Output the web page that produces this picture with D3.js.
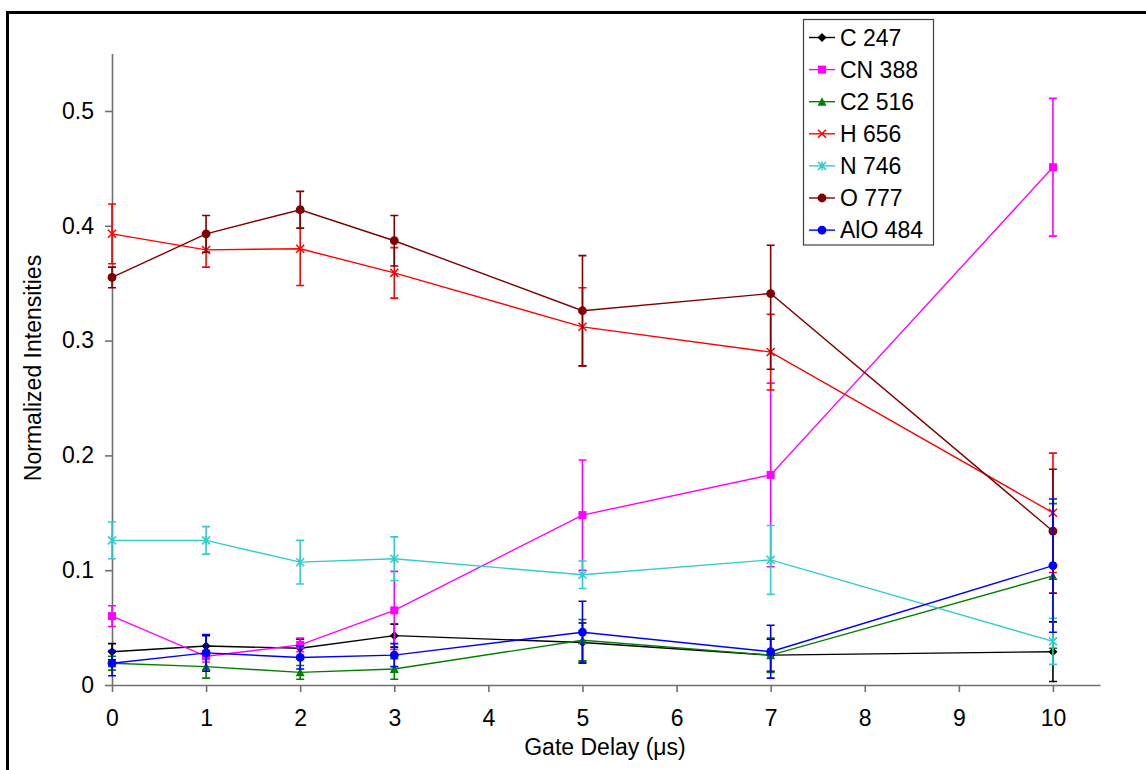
<!DOCTYPE html>
<html lang="en">
<head>
  <meta charset="UTF-8">
  <title>Normalized Intensities vs Gate Delay</title>
  <style>
    body {
      margin: 0;
      padding: 0;
      background: #fff;
      font-family: "Liberation Sans", Arial, sans-serif;
    }
    .axis path, .axis line {
      stroke: #707070;
      stroke-width: 1.6;
    }
    .axis text {
      font-size: 23px;
      fill: #000;
    }
    .axis-title {
      font-size: 23px;
      fill: #000;
    }
    .legend-text {
      font-size: 23px;
      fill: #000;
    }
  </style>
</head>
<body>
  <script src="https://d3js.org/d3.v7.min.js"></script>
  <script>
    // Gate delays (µs)
    const delays = [0, 1, 2, 3, 5, 7, 10];

    // values and error bars
    const c247 = [0.029, 0.034, 0.032, 0.043, 0.037, 0.026, 0.029];
    const c247Err = [0.007, 0.009, 0.008, 0.010, 0.017, 0.014, 0.026];
    const cn388 = [0.060, 0.025, 0.035, 0.065, 0.148, 0.183, 0.451];
    const cn388Err = [0.009, 0.005, 0.006, 0.034, 0.048, 0.080, 0.060];
    const c2516 = [0.019, 0.016, 0.011, 0.014, 0.039, 0.026, 0.095];
    const c2516Err = [0.006, 0.010, 0.006, 0.009, 0.018, 0.015, 0.063];
    const h656 = [0.393, 0.379, 0.380, 0.359, 0.312, 0.290, 0.150];
    const h656Err = [0.026, 0.015, 0.032, 0.022, 0.034, 0.033, 0.052];
    const n746 = [0.126, 0.126, 0.107, 0.110, 0.096, 0.109, 0.038];
    const n746Err = [0.016, 0.012, 0.019, 0.019, 0.012, 0.030, 0.020];
    const o777 = [0.355, 0.393, 0.414, 0.387, 0.326, 0.341, 0.134];
    const o777Err = [0.009, 0.016, 0.016, 0.022, 0.048, 0.042, 0.054];
    const o777ErrLow = [0.009, 0.016, 0.016, 0.022, 0.048, 0.066, 0.054];
    const alo484 = [0.019, 0.028, 0.024, 0.026, 0.046, 0.029, 0.104];
    const alo484Err = [0.011, 0.016, 0.010, 0.010, 0.027, 0.023, 0.058];

    const xTicks = [0, 1, 2, 3, 4, 5, 6, 7, 8, 9, 10];
    const yTicks = [0, 0.1, 0.2, 0.3, 0.4, 0.5];

    const series = [
      { name: 'C 247', values: c247, err: c247Err, color: '#000000', marker: 'diamond' },
      { name: 'CN 388', values: cn388, err: cn388Err, color: '#ff00ff', marker: 'square' },
      { name: 'C2 516', values: c2516, err: c2516Err, color: '#008000', marker: 'triangle' },
      { name: 'H 656', values: h656, err: h656Err, color: '#ff0000', marker: 'cross' },
      { name: 'N 746', values: n746, err: n746Err, color: '#33cccc', marker: 'star' },
      { name: 'O 777', values: o777, err: o777Err, errLow: o777ErrLow, color: '#800000', marker: 'circle' },
      { name: 'AlO 484', values: alo484, err: alo484Err, color: '#0000ff', marker: 'circle' }
    ];

    const width = 1146;
    const height = 770;

    const svg = d3.select('body')
      .append('svg')
      .attr('width', width)
      .attr('height', height);

    // outer frame, runs off the right and bottom edges
    svg.append('rect')
      .attr('x', 7.5)
      .attr('y', 12.5)
      .attr('width', 1160)
      .attr('height', 800)
      .attr('fill', 'none')
      .attr('stroke', '#000')
      .attr('stroke-width', 3);

    const x = d3.scaleLinear().domain([0, 10.5]).range([112, 1100]);
    const y = d3.scaleLinear().domain([0, 0.55]).range([685, 53.6]);

    // axes
    svg.append('g')
      .attr('class', 'axis')
      .attr('transform', `translate(0,${y(0)})`)
      .call(d3.axisBottom(x).tickValues(xTicks).tickSize(7).tickSizeOuter(0).tickPadding(18).tickFormat(d3.format('d')));

    svg.append('g')
      .attr('class', 'axis')
      .attr('transform', `translate(${x(0)},0)`)
      .call(d3.axisLeft(y).tickValues(yTicks).tickSize(7).tickSizeOuter(0).tickPadding(11).tickFormat(d => d === 0 ? '0' : d3.format('.1f')(d)));

    svg.selectAll('.axis text').attr('font-family', '"Liberation Sans", Arial, sans-serif');

    svg.append('text')
      .attr('class', 'axis-title')
      .attr('x', 605)
      .attr('y', 755)
      .attr('text-anchor', 'middle')
      .text('Gate Delay (\u03bcs)');

    svg.append('text')
      .attr('class', 'axis-title')
      .attr('transform', 'translate(41,368) rotate(-90)')
      .attr('text-anchor', 'middle')
      .text('Normalized Intensities');

    function drawMarker(g, type, color) {
      const s = 4.5;
      if (type === 'diamond') {
        g.append('path').attr('d', `M0,${-s}L${s},0L0,${s}L${-s},0Z`).attr('fill', color);
      } else if (type === 'square') {
        g.append('rect').attr('x', -4).attr('y', -4).attr('width', 8).attr('height', 8).attr('fill', color);
      } else if (type === 'triangle') {
        g.append('path').attr('d', `M0,${-s}L${s},${s - 0.5}L${-s},${s - 0.5}Z`).attr('fill', color);
      } else if (type === 'cross') {
        g.append('path').attr('d', `M-4,-4L4,4M4,-4L-4,4`).attr('stroke', color).attr('stroke-width', 1.5);
      } else if (type === 'star') {
        g.append('path').attr('d', `M-4,-4L4,4M4,-4L-4,4M0,-4.5L0,4.5`).attr('stroke', color).attr('stroke-width', 1.5);
      } else {
        g.append('circle').attr('r', 4.4).attr('fill', color);
      }
    }

    const line = d3.line()
      .x((d, i) => x(delays[i]))
      .y(d => y(d));

    const plot = svg.append('g');

    series.forEach(s => {
      const g = plot.append('g');

      // error bars
      s.values.forEach((v, i) => {
        const cx = x(delays[i]);
        const low = s.errLow ? s.errLow[i] : s.err[i];
        const top = y(v + s.err[i]);
        const bot = y(Math.max(0, v - low));
        g.append('path')
          .attr('d', `M${cx},${top}L${cx},${bot}M${cx - 4},${top}L${cx + 4},${top}M${cx - 4},${bot}L${cx + 4},${bot}`)
          .attr('stroke', s.color)
          .attr('stroke-width', 1.6)
          .attr('fill', 'none');
      });

      g.append('path')
        .datum(s.values)
        .attr('d', line)
        .attr('fill', 'none')
        .attr('stroke', s.color)
        .attr('stroke-width', 1.4);

      s.values.forEach((v, i) => {
        drawMarker(g.append('g').attr('transform', `translate(${x(delays[i])},${y(v)})`), s.marker, s.color);
      });
    });

    // legend
    const legend = svg.append('g');
    legend.append('rect')
      .attr('x', 803.5)
      .attr('y', 19.5)
      .attr('width', 130)
      .attr('height', 225.5)
      .attr('fill', '#fff')
      .attr('stroke', '#404040')
      .attr('stroke-width', 1.2);

    series.forEach((s, i) => {
      const ly = 37.5 + i * 32.1;
      const item = legend.append('g');
      item.append('line')
        .attr('x1', 809).attr('x2', 835)
        .attr('y1', ly).attr('y2', ly)
        .attr('stroke', s.color)
        .attr('stroke-width', 1.4);
      drawMarker(item.append('g').attr('transform', `translate(822,${ly})`), s.marker, s.color);
      item.append('text')
        .attr('class', 'legend-text')
        .attr('x', 840)
        .attr('y', ly)
        .attr('dy', '0.35em')
        .text(s.name);
    });
  </script>
</body>
</html>
